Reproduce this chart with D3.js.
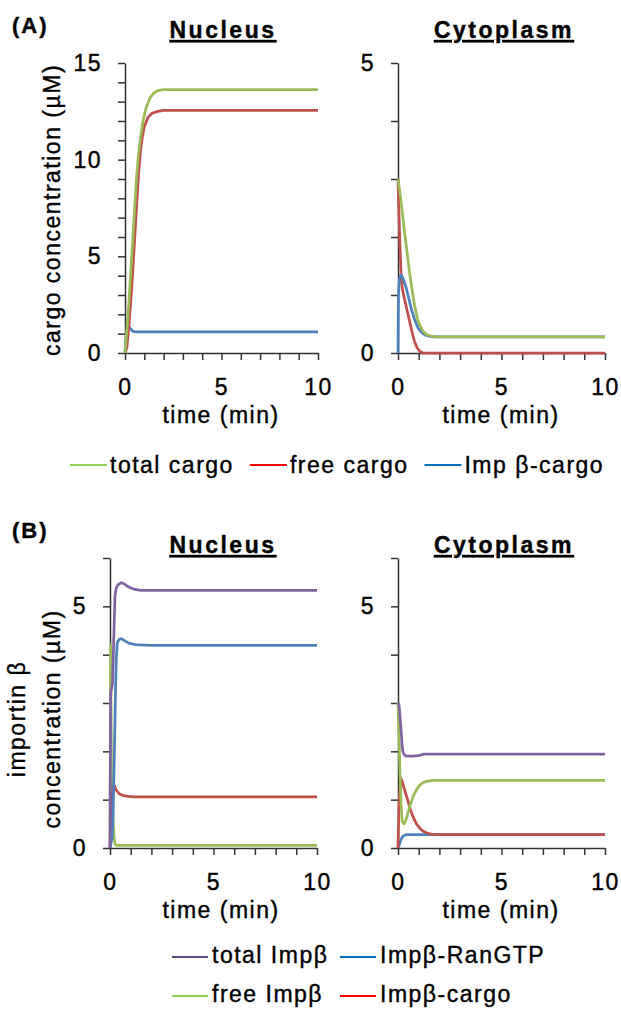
<!DOCTYPE html>
<html>
<head>
<meta charset="utf-8">
<script src="https://cdn.jsdelivr.net/npm/d3@7"></script>
<style>
  body { margin: 0; background: #fff; }
  svg text { font-family: "Liberation Sans", Arial, sans-serif; fill: #000; stroke: #000; stroke-width: 0.4px; }
  .axis path, .axis line { stroke: #333; stroke-width: 1.5; }
</style>
</head>
<body>
<svg id="chart" width="621" height="1010"></svg>
<script>
// [time (min), concentration (uM)]

// (A) cargo - nucleus
var cargoNucTotal = [[0,0],[0.1,1.2],[0.2,2.6],[0.3,4.2],[0.4,5.8],[0.5,7.5],[0.6,9.1],[0.7,10.3],[0.8,11.1],[0.9,11.8],[1.0,12.3],[1.1,12.7],[1.3,13.2],[1.5,13.45],[1.7,13.57],[2.0,13.62],[10,13.62]];
var cargoNucFree  = [[0,0],[0.1,0.3],[0.2,1.4],[0.3,2.7],[0.4,4.2],[0.5,5.9],[0.6,7.6],[0.7,9.2],[0.8,10.4],[0.9,11.2],[1.0,11.7],[1.2,12.2],[1.4,12.4],[1.7,12.5],[2.0,12.55],[10,12.55]];
var cargoNucImp   = [[0,0],[0.08,1.0],[0.15,1.45],[0.25,1.3],[0.4,1.12],[0.6,1.09],[10,1.09]];

// (A) cargo - cytoplasm
var cargoCytTotal = [[0,3.0],[0.1,2.75],[0.2,2.45],[0.32,2.07],[0.45,1.7],[0.56,1.38],[0.7,1.05],[0.8,0.82],[0.95,0.58],[1.05,0.48],[1.2,0.38],[1.37,0.32],[1.6,0.29],[1.85,0.28],[10,0.28]];
var cargoCytFree  = [[0,3.0],[0.04,2.5],[0.08,2.0],[0.16,1.26],[0.24,1.05],[0.32,0.92],[0.45,0.72],[0.56,0.55],[0.7,0.33],[0.8,0.2],[0.92,0.09],[1.05,0.03],[1.2,0],[10,0]];
var cargoCytImp   = [[0,0],[0.02,1.0],[0.08,1.3],[0.15,1.35],[0.25,1.28],[0.4,1.12],[0.55,0.9],[0.65,0.75],[0.8,0.58],[0.97,0.43],[1.15,0.35],[1.3,0.31],[1.5,0.29],[1.7,0.28],[10,0.28]];

// (B) importin beta - nucleus
var impNucFree  = [[0,0],[0.03,4.2],[0.08,1.3],[0.12,0.9],[0.16,0.5],[0.2,0.2],[0.25,0.07],[0.35,0.055],[10,0.055]];
var impNucCargo = [[0,0],[0.08,0.9],[0.15,1.25],[0.2,1.3],[0.3,1.2],[0.45,1.12],[0.6,1.09],[0.9,1.07],[1.2,1.06],[10,1.06]];
var impNucRan   = [[0,0],[0.1,0.2],[0.15,0.7],[0.2,1.7],[0.25,2.9],[0.3,3.9],[0.35,4.25],[0.45,4.32],[0.55,4.33],[0.7,4.29],[0.9,4.24],[1.2,4.21],[2.0,4.19],[10,4.19]];
var impNucTotal = [[0,0],[0.03,3.2],[0.12,3.4],[0.18,4.3],[0.24,5.2],[0.3,5.38],[0.4,5.45],[0.55,5.49],[0.7,5.46],[0.9,5.4],[1.2,5.35],[1.5,5.33],[10,5.33]];

// (B) importin beta - cytoplasm
var impCytFree  = [[0,3.0],[0.05,2.3],[0.1,1.5],[0.15,0.9],[0.2,0.55],[0.3,0.5],[0.4,0.6],[0.56,0.85],[0.7,1.03],[0.8,1.13],[0.95,1.24],[1.05,1.3],[1.2,1.35],[1.37,1.38],[1.7,1.4],[10,1.4]];
var impCytCargo = [[0,0],[0.05,0.9],[0.13,1.44],[0.2,1.38],[0.32,1.2],[0.45,1.02],[0.56,0.85],[0.7,0.67],[0.89,0.5],[1.05,0.41],[1.2,0.35],[1.4,0.31],[1.7,0.28],[2.0,0.275],[10,0.275]];
var impCytRan   = [[0,0],[0.08,0.09],[0.15,0.18],[0.21,0.23],[0.3,0.26],[0.4,0.275],[10,0.275]];
var impCytTotal = [[0,3.0],[0.05,2.96],[0.1,2.7],[0.16,2.37],[0.2,2.1],[0.24,1.99],[0.3,1.93],[0.4,1.9],[0.7,1.9],[1.0,1.91],[1.2,1.94],[10,1.94]];

var minuteTicks = [0,1,2,3,4,5,6,7,8,9,10];
var cargoNucTicks = [0,1,2,3,4,5,6,7,8,9,10,11,12,13,14,15];
var cargoCytTicks = [0,1,2,3,4,5];
var impTicks = [0,1,2,3,4,5,6];

var cargoKeys = ["total cargo", "free cargo", "Imp \u03b2-cargo"];
var impKeys = ["total Imp\u03b2", "Imp\u03b2-RanGTP", "free Imp\u03b2", "Imp\u03b2-cargo"];

var plotColor = {green: "#9bbb59", red: "#c0504d", blue: "#4f81bd", purple: "#8064a2"};
var legColor = {green: "#92d050", red: "#ff0000", blue: "#0070c0", purple: "#604a7b"};

var svg = d3.select("svg#chart");

var panels = [
  {title: "Nucleus", tx: 223, ty: 38, xr: [125, 318], yr: [353, 63], ticks: cargoNucTicks, lx: 221,
   series: [[cargoNucImp, "blue"], [cargoNucFree, "red"], [cargoNucTotal, "green"]]},
  {title: "Cytoplasm", tx: 504, ty: 38, xr: [398, 605], yr: [353, 63], ticks: cargoCytTicks, lx: 501,
   series: [[cargoCytFree, "red"], [cargoCytImp, "blue"], [cargoCytTotal, "green"]]},
  {title: "Nucleus", tx: 223, ty: 553, xr: [110, 317], yr: [848, 558], ticks: impTicks, lx: 221,
   series: [[impNucFree, "green"], [impNucCargo, "red"], [impNucRan, "blue"], [impNucTotal, "purple"]]},
  {title: "Cytoplasm", tx: 504, ty: 553, xr: [398, 605], yr: [848, 558], ticks: impTicks, lx: 501,
   series: [[impCytRan, "blue"], [impCytCargo, "red"], [impCytFree, "green"], [impCytTotal, "purple"]]}
];

panels.forEach(function(p) {
  var x = d3.scaleLinear().domain([0, 10]).range(p.xr);
  var y = d3.scaleLinear().domain([0, d3.max(p.ticks)]).range(p.yr);

  var line = d3.line()
      .x(function(d) { return x(d[0]); })
      .y(function(d) { return y(d[1]); });

  svg.append("g")
      .attr("class", "axis")
      .attr("transform", "translate(0," + p.yr[0] + ")")
      .call(d3.axisBottom(x).tickValues(minuteTicks).tickSize(7).tickSizeOuter(0).tickPadding(19)
        .tickFormat(function(d) { return d % 5 === 0 ? d : ""; }));

  svg.append("g")
      .attr("class", "axis")
      .attr("transform", "translate(" + p.xr[0] + ",0)")
      .call(d3.axisLeft(y).tickValues(p.ticks).tickSize(7).tickSizeOuter(0).tickPadding(16)
        .tickFormat(function(d) { return d % 5 === 0 ? d : ""; }));

  svg.selectAll(".axis text")
      .attr("fill", "#000")
      .style("font-family", "'Liberation Sans', Arial, sans-serif")
      .style("font-size", "23px")
      .style("letter-spacing", "1.5px");

  svg.append("g")
    .selectAll("path")
    .data(p.series)
    .enter().append("path")
      .attr("d", function(d) { return line(d[0]); })
      .attr("fill", "none")
      .attr("stroke", function(d) { return plotColor[d[1]]; })
      .attr("stroke-width", 2.75)
      .attr("stroke-linejoin", "round");

  svg.append("text")
      .attr("x", p.tx)
      .attr("y", p.ty)
      .attr("text-anchor", "middle")
      .attr("font-weight", "bold")
      .style("font-size", "23px")
      .style("letter-spacing", "2.5px")
      .style("text-decoration", "underline")
      .text(p.title);

  svg.append("text")
      .attr("x", p.lx)
      .attr("y", p.yr[0] + 70)
      .attr("text-anchor", "middle")
      .style("font-size", "23px")
      .style("letter-spacing", "1.5px")
      .text("time (min)");
});

// panel letters
[["(A)", 33], ["(B)", 538]].forEach(function(d) {
  svg.append("text")
      .attr("x", 12)
      .attr("y", d[1])
      .attr("font-weight", "bold")
      .style("font-size", "22px")
      .style("letter-spacing", "2px")
      .text(d[0]);
});

// y axis titles
svg.append("text")
    .attr("transform", "translate(60,210) rotate(-90)")
    .attr("text-anchor", "middle")
    .style("font-size", "23px")
    .style("letter-spacing", "1.5px")
    .text("cargo concentration (\u00b5M)");

[["importin \u03b2", 25], ["concentration (\u00b5M)", 60]].forEach(function(d) {
  svg.append("text")
      .attr("transform", "translate(" + d[1] + ",719) rotate(-90)")
      .attr("text-anchor", "middle")
      .style("font-size", "23px")
      .style("letter-spacing", "1.5px")
      .text(d[0]);
});

// legend (A): one row, items laid out left to right
var legA = svg.append("g");
var cx = 70;
cargoKeys.forEach(function(k, i) {
  var c = legColor[["green", "red", "blue"][i]];
  legA.append("line")
      .attr("x1", cx).attr("x2", cx + 37)
      .attr("y1", 465).attr("y2", 465)
      .attr("stroke", c)
      .attr("stroke-width", 2);
  var t = legA.append("text")
      .attr("x", cx + 40)
      .attr("y", 473)
      .style("font-size", "23px")
      .style("letter-spacing", "1.5px")
      .text(k);
  cx += 40 + t.node().getComputedTextLength() + 16;
});

// legend (B): two rows, two columns
var legB = svg.append("g");
impKeys.forEach(function(k, i) {
  var c = legColor[["purple", "blue", "green", "red"][i]];
  var lx = [172, 340][i % 2], ly = [957, 996][Math.floor(i / 2)];
  legB.append("line")
      .attr("x1", lx).attr("x2", lx + 36)
      .attr("y1", ly).attr("y2", ly)
      .attr("stroke", c)
      .attr("stroke-width", 2);
  legB.append("text")
      .attr("x", lx + 40)
      .attr("y", ly + 6)
      .style("font-size", "23px")
      .style("letter-spacing", "1.5px")
      .text(k);
});
</script>
</body>
</html>
